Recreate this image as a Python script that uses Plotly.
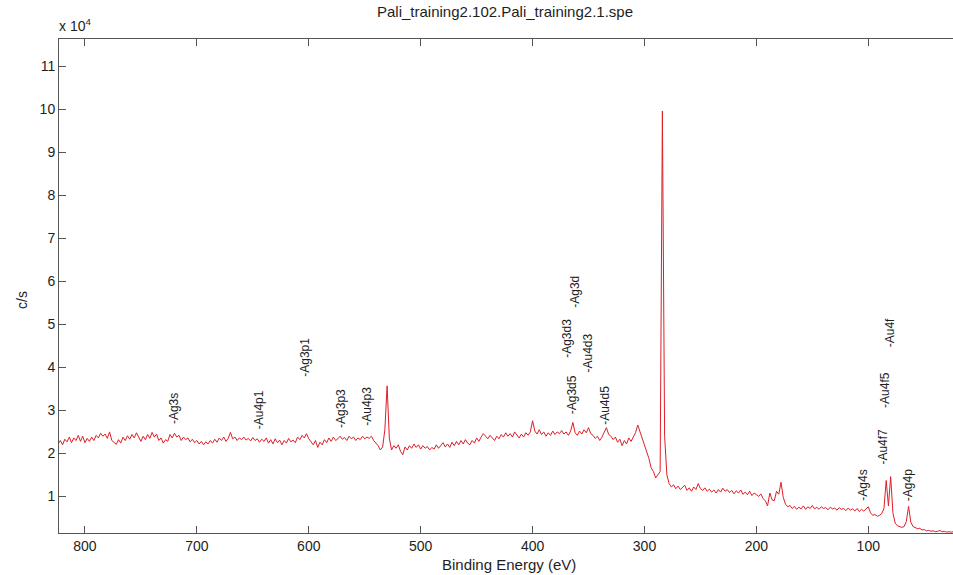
import numpy as np
import plotly.graph_objects as go

# Survey spectrum sampled every 2 eV from 824 eV down to 24 eV
ENERGY_START = 824
ENERGY_STOP = 24
ENERGY_STEP = 2
energy_ev = np.arange(ENERGY_START, ENERGY_STOP - 1, -ENERGY_STEP)

# Counts per second, in units of 10^4 (one row = 40 eV)
counts_e4 = [
    2.22, 2.30, 2.20, 2.33, 2.27, 2.38, 2.25, 2.36, 2.30, 2.42, 2.28, 2.40, 2.25, 2.35, 2.28, 2.38, 2.30, 2.42, 2.36, 2.47,
    2.40, 2.45, 2.35, 2.50, 2.30, 2.25, 2.21, 2.32, 2.24, 2.38, 2.30, 2.41, 2.33, 2.44, 2.36, 2.48, 2.38, 2.28, 2.40, 2.32,
    2.44, 2.35, 2.49, 2.38, 2.45, 2.30, 2.36, 2.24, 2.32, 2.28, 2.44, 2.36, 2.47, 2.38, 2.42, 2.30, 2.38, 2.32, 2.36, 2.27,
    2.33, 2.25, 2.30, 2.22, 2.28, 2.20, 2.27, 2.22, 2.30, 2.24, 2.33, 2.26, 2.36, 2.30, 2.38, 2.28, 2.35, 2.49, 2.34, 2.38,
    2.30, 2.36, 2.32, 2.38, 2.31, 2.35, 2.29, 2.37, 2.30, 2.34, 2.26, 2.33, 2.28, 2.36, 2.24, 2.32, 2.22, 2.34, 2.25, 2.31,
    2.20, 2.30, 2.24, 2.35, 2.27, 2.31, 2.25, 2.38, 2.32, 2.42, 2.36, 2.46, 2.34, 2.28, 2.20, 2.30, 2.14, 2.26, 2.20, 2.32,
    2.25, 2.36, 2.28, 2.38, 2.30, 2.34, 2.40, 2.33, 2.37, 2.30, 2.40, 2.34, 2.38, 2.30, 2.36, 2.32, 2.40, 2.34, 2.38, 2.35,
    2.40, 2.30, 2.25, 2.18, 2.08, 2.15, 2.55, 3.57, 2.35, 2.08, 2.18, 2.12, 2.20, 2.05, 1.97, 2.15, 2.08, 2.18, 2.12, 2.22,
    2.14, 2.20, 2.10, 2.18, 2.12, 2.16, 2.08, 2.14, 2.10, 2.20, 2.12, 2.18, 2.25, 2.15, 2.22, 2.14, 2.26, 2.18, 2.28, 2.20,
    2.30, 2.22, 2.32, 2.24, 2.20, 2.30, 2.24, 2.36, 2.28, 2.38, 2.46, 2.40, 2.34, 2.42, 2.36, 2.30, 2.40, 2.34, 2.44, 2.38,
    2.48, 2.40, 2.46, 2.38, 2.50, 2.42, 2.36, 2.45, 2.38, 2.48, 2.42, 2.50, 2.76, 2.52, 2.45, 2.55, 2.44, 2.50, 2.40, 2.48,
    2.42, 2.52, 2.44, 2.50, 2.46, 2.53, 2.45, 2.50, 2.42, 2.52, 2.72, 2.48, 2.42, 2.52, 2.45, 2.55, 2.48, 2.60, 2.46, 2.42,
    2.35, 2.40, 2.30, 2.38, 2.48, 2.60, 2.44, 2.40, 2.32, 2.38, 2.26, 2.33, 2.18, 2.30, 2.22, 2.36, 2.28, 2.40, 2.48, 2.66,
    2.50, 2.36, 2.22, 2.02, 1.88, 1.66, 1.58, 1.43, 1.52, 1.58, 9.96, 2.40, 1.50, 1.30, 1.22, 1.27, 1.18, 1.24, 1.16, 1.22,
    1.26, 1.14, 1.20, 1.12, 1.22, 1.16, 1.30, 1.18, 1.14, 1.20, 1.12, 1.17, 1.10, 1.15, 1.08, 1.16, 1.10, 1.19, 1.12, 1.16,
    1.09, 1.14, 1.06, 1.13, 1.08, 1.15, 1.05, 1.10, 1.04, 1.12, 1.02, 1.08, 1.04, 1.00, 1.06, 0.95, 0.90, 0.78, 1.08, 0.92,
    0.90, 1.12, 1.05, 1.33, 0.98, 0.82, 0.76, 0.79, 0.72, 0.77, 0.70, 0.75, 0.71, 0.78, 0.70, 0.76, 0.72, 0.79, 0.71, 0.75,
    0.70, 0.76, 0.72, 0.74, 0.69, 0.75, 0.71, 0.73, 0.68, 0.74, 0.70, 0.72, 0.67, 0.73, 0.68, 0.71, 0.66, 0.72, 0.65, 0.70,
    0.66, 0.70, 0.76, 0.62, 0.56, 0.58, 0.54, 0.56, 0.60, 0.72, 1.37, 0.78, 1.46, 0.62, 0.38, 0.32, 0.30, 0.28, 0.30, 0.42,
    0.77, 0.40, 0.30, 0.28, 0.25, 0.26, 0.22, 0.23, 0.20, 0.21, 0.19, 0.20, 0.18, 0.19, 0.21, 0.18, 0.19, 0.17, 0.18, 0.17,
    0.18,
]
SCALE = 1e4
counts = np.array(counts_e4) * SCALE
assert len(counts) == len(energy_ev)

# Peak identification labels: name, binding energy (eV), label base (c/s)
peak_names = ["Ag3s", "Au4p1", "Ag3p1", "Ag3p3", "Au4p3", "Ag3d3", "Ag3d", "Ag3d5",
              "Au4d3", "Au4d5", "Ag4s", "Au4f7", "Au4f5", "Au4f", "Ag4p"]
peak_ev = [720.2, 644.2, 604.0, 570.6, 548.3, 369.5, 362.1, 364.5,
           350.2, 335.3, 104.5, 86.6, 85.1, 80.6, 64.3]
peak_label_y = [26300, 25100, 37300, 25500, 26000, 41800, 53400, 28600,
                38300, 26300, 8500, 17000, 30100, 44100, 8500]

y_ticks = list(range(1, 12))
x_ticks = [800, 700, 600, 500, 400, 300, 200, 100]

X_RANGE = [823.2, 24.3]
Y_RANGE = [0.15 * SCALE, 11.634 * SCALE]

AXIS_COLOR = "#555555"
TEXT_COLOR = "#1e1e1e"
FONT = "Arial, Liberation Sans, sans-serif"

fig = go.Figure()
fig.add_trace(go.Scatter(
    x=energy_ev, y=counts, mode="lines",
    line=dict(color="#dc1f28", width=1),
    hoverinfo="skip", showlegend=False,
))

for name, ev, yv in zip(peak_names, peak_ev, peak_label_y):
    fig.add_annotation(
        x=ev, y=yv, xref="x", yref="y", text="-" + name, showarrow=False,
        textangle=-90, xanchor="center", yanchor="bottom",
        font=dict(family=FONT, size=12, color=TEXT_COLOR),
    )

W, H = 953, 575
ML, MR, MT, MB = 59, 0, 39, 42

def px_x(px):
    return (px - ML) / (W - ML - MR)

def px_y(py):
    return 1 - (py - MT) / (H - MT - MB)

fig.add_annotation(
    x=px_x(505), y=px_y(12), xref="paper", yref="paper",
    text="Pali_training2.102.Pali_training2.1.spe", showarrow=False,
    xanchor="center", yanchor="middle",
    font=dict(family=FONT, size=15, color=TEXT_COLOR),
)
fig.add_annotation(
    x=px_x(57), y=px_y(25), xref="paper", yref="paper",
    text="x 10<sup>4</sup>", showarrow=False, xanchor="left", yanchor="middle",
    font=dict(family=FONT, size=14, color=TEXT_COLOR),
)
fig.add_annotation(
    x=px_x(509), y=px_y(564), xref="paper", yref="paper",
    text="Binding Energy (eV)", showarrow=False, xanchor="center", yanchor="middle",
    font=dict(family=FONT, size=15, color=TEXT_COLOR),
)
fig.add_annotation(
    x=px_x(22), y=px_y(300), xref="paper", yref="paper",
    text="c/s", showarrow=False, textangle=-90, xanchor="center", yanchor="middle",
    font=dict(family=FONT, size=14, color=TEXT_COLOR),
)

fig.update_layout(
    width=W, height=H,
    margin=dict(l=ML, r=MR, t=MT, b=MB, pad=0),
    paper_bgcolor="white", plot_bgcolor="white",
    font=dict(family=FONT, size=14, color=TEXT_COLOR),
)
fig.update_xaxes(
    range=X_RANGE, tickvals=x_ticks, ticktext=[str(v) for v in x_ticks],
    showgrid=False, zeroline=False, showline=True, linecolor=AXIS_COLOR, linewidth=1,
    mirror="ticks", ticks="inside", ticklen=7, tickcolor=AXIS_COLOR,
    tickfont=dict(family=FONT, size=14, color=TEXT_COLOR),
)
fig.update_yaxes(
    range=Y_RANGE, tickvals=[v * SCALE for v in y_ticks], ticktext=[str(v) for v in y_ticks],
    showgrid=False, zeroline=False, showline=True, linecolor=AXIS_COLOR, linewidth=1,
    mirror=False, ticks="inside", ticklen=7, tickcolor=AXIS_COLOR,
    tickfont=dict(family=FONT, size=14, color=TEXT_COLOR),
)

fig.write_html("out.html")
